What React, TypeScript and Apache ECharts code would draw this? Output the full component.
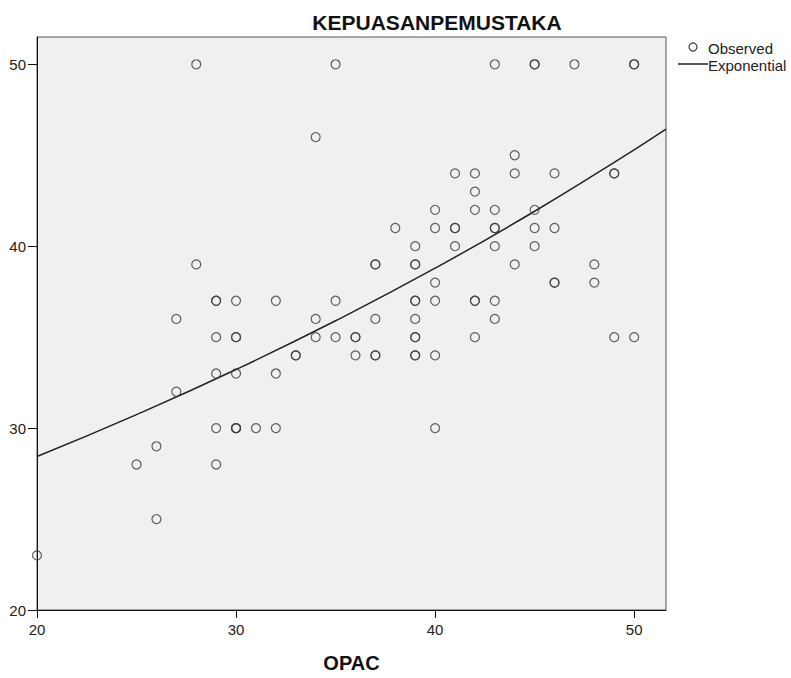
import React, { useEffect, useRef } from "react";
import * as echarts from "echarts";

// Observed points [OPAC, KEPUASANPEMUSTAKA]
const opac: number[] = [
  20, 25, 26, 26, 27, 27, 28, 28,
  29, 29, 29, 29, 29, 29,
  30, 30, 30, 30, 30, 30, 30,
  31, 32, 32, 32, 33, 33,
  34, 34, 34, 35, 35, 35,
  36, 36, 36, 37, 37, 37, 37, 37, 38,
  39, 39, 39, 39, 39, 39, 39, 39, 39, 39,
  40, 40, 40, 40, 40, 40,
  41, 41, 41, 41,
  42, 42, 42, 42, 42, 42,
  43, 43, 43, 43, 43, 43, 43,
  44, 44, 44,
  45, 45, 45, 45, 45,
  46, 46, 46, 46, 47, 48, 48,
  49, 49, 49, 50, 50, 50,
];
const kepuasan: number[] = [
  23, 28, 29, 25, 32, 36, 39, 50,
  37, 37, 35, 33, 30, 28,
  37, 35, 35, 33, 30, 30, 30,
  30, 37, 33, 30, 34, 34,
  46, 36, 35, 50, 37, 35,
  35, 35, 34, 39, 39, 36, 34, 34, 41,
  40, 39, 39, 37, 37, 36, 35, 35, 34, 34,
  42, 41, 38, 37, 34, 30,
  44, 41, 41, 40,
  44, 43, 42, 37, 37, 35,
  50, 42, 41, 41, 40, 37, 36,
  45, 44, 39,
  50, 50, 42, 41, 40,
  44, 41, 38, 38, 50, 39, 38,
  44, 44, 35, 50, 50, 35,
];

// Exponential fit curve
const curveX: number[] = [20, 25, 30, 35, 40, 45, 50, 51.6];
const curveY: number[] = [28.44, 30.74, 33.22, 35.9, 38.79, 41.92, 45.3, 46.43];

const xTicks: number[] = [20, 30, 40, 50];
const yTicks: number[] = [20, 30, 40, 50];

const FONT = "'Liberation Sans', Arial, sans-serif";

export default function App() {
  const ref = useRef<HTMLDivElement>(null);
  useEffect(() => {
    document.body.style.margin = "0";
    const chart = echarts.init(ref.current!, undefined, { renderer: "svg" });
    const pts = opac.map((x, i) => [x, kepuasan[i]]);
    const line = curveX.map((x, i) => [x, curveY[i]]);
    chart.setOption({
      animation: false,
      backgroundColor: "#ffffff",
      title: {
        text: "KEPUASANPEMUSTAKA",
        left: 432,
        top: 7,
        textAlign: "center",
        textStyle: { fontFamily: FONT, fontSize: 21, fontWeight: "bold", color: "#111" },
      },
      grid: {
        left: 37,
        top: 37,
        width: 629,
        height: 575,
        show: true,
        backgroundColor: "#f0f0f0",
        borderColor: "#555",
        borderWidth: 1,
      },
      xAxis: {
        type: "value",
        min: 20,
        max: 51.6,
        interval: 10,
        name: "OPAC",
        nameLocation: "middle",
        nameGap: 43,
        nameTextStyle: { fontFamily: FONT, fontSize: 20, fontWeight: "bold", color: "#111" },
        splitLine: { show: false },
        axisLine: { show: true, onZero: false, lineStyle: { color: "#111", width: 1 } },
        axisTick: { show: true, length: 8, customValues: xTicks, lineStyle: { color: "#111" } },
        axisLabel: { customValues: xTicks, fontFamily: FONT, fontSize: 15, color: "#222", margin: 12 },
      },
      yAxis: {
        type: "value",
        min: 20,
        max: 51.5,
        interval: 10,
        splitLine: { show: false },
        axisLine: { show: true, onZero: false, lineStyle: { color: "#111", width: 1 } },
        axisTick: { show: true, length: 9, customValues: yTicks, lineStyle: { color: "#111" } },
        axisLabel: {
          customValues: yTicks,
          fontFamily: FONT,
          fontSize: 15,
          color: "#222",
          margin: 11,
          padding: [5, 0, 0, 0],
        },
      },
      series: [
        {
          name: "Observed",
          type: "scatter",
          data: pts,
          symbol: "circle",
          symbolSize: 9,
          itemStyle: { color: "rgba(0,0,0,0)", borderColor: "#3a3a3a", borderWidth: 1.2 },
          z: 3,
        },
        {
          name: "Exponential",
          type: "line",
          data: line,
          smooth: true,
          showSymbol: false,
          lineStyle: { color: "#222", width: 1.5 },
          z: 2,
        },
      ],
      graphic: [
        {
          type: "circle",
          shape: { cx: 693, cy: 47, r: 4 },
          style: { fill: "none", stroke: "#3a3a3a", lineWidth: 1.2 },
        },
        {
          type: "text",
          x: 708,
          y: 48,
          style: { text: "Observed", fontFamily: FONT, fontSize: 15, fill: "#222", textVerticalAlign: "middle" },
        },
        {
          type: "line",
          shape: { x1: 678, y1: 64, x2: 708, y2: 64 },
          style: { stroke: "#222", lineWidth: 1.5 },
        },
        {
          type: "text",
          x: 708,
          y: 65,
          style: { text: "Exponential", fontFamily: FONT, fontSize: 15, fill: "#222", textVerticalAlign: "middle" },
        },
      ],
    });
    return () => chart.dispose();
  }, []);
  return <div ref={ref} style={{ width: 791, height: 678 }} />;
}
